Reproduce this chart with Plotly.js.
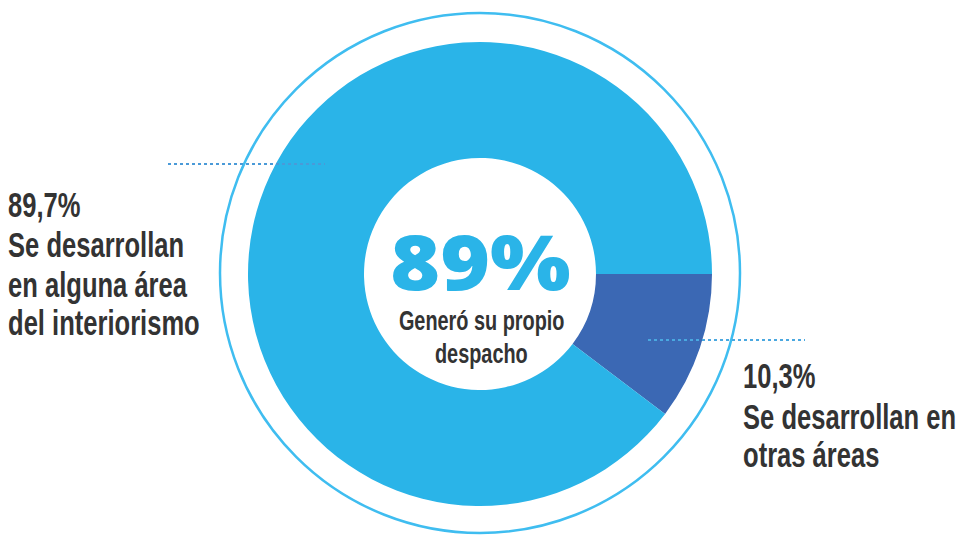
<!DOCTYPE html>
<html>
<head>
<meta charset="utf-8">
<script src="https://cdn.plot.ly/plotly-3.0.1.min.js"></script>
<style>
html,body{margin:0;padding:0;background:#fff;}
#chart{width:959px;height:535px;}
/* condensed look for the label texts (reference uses a condensed typeface) */
#chart g.annotation text.annotation-text{transform-box:fill-box;transform-origin:0% 50%;transform:scaleX(0.71);}
#chart g.annotation[data-index="0"] text.annotation-text{transform-origin:50% 50%;transform:scaleX(1.12);}
#chart g.annotation[data-index="1"] text.annotation-text,
#chart g.annotation[data-index="2"] text.annotation-text{transform-origin:50% 50%;}
</style>
</head>
<body>
<div id="chart"></div>
<script>
const categories = ["Se desarrollan en otras áreas", "Se desarrollan en alguna área del interiorismo"];
const values = [10.3, 89.7];
const sliceColors = ["#3b68b4", "#2ab4e8"];
const centerValue = "89%";
const centerLines = ["Generó su propio", "despacho"];
const leftLines = ["89,7%", "Se desarrollan", "en alguna área", "del interiorismo"];
const rightLines = ["10,3%", "Se desarrollan en", "otras áreas"];

const W = 959, H = 535;
const px = x => x / W;
const py = y => 1 - y / H;
const labelFont = "Liberation Sans, Arial, sans-serif";

const data = [{
  type: "pie",
  labels: categories,
  values: values,
  hole: 0.5,
  sort: false,
  direction: "clockwise",
  rotation: 90,
  textinfo: "none",
  hoverinfo: "label+percent",
  marker: {colors: sliceColors, line: {width: 0}},
  domain: {x: [px(248), px(712)], y: [py(506), py(42)]},
  showlegend: false
}];

const annotations = [
  {xref: "paper", yref: "paper", x: px(480), y: py(260), xanchor: "center", yanchor: "middle",
   text: centerValue, showarrow: false,
   font: {family: "Open Sans, Lato, sans-serif", size: 76, weight: 800, color: "#2ab4e8"}}
];
const centerY = [320, 353];
centerLines.forEach((t, i) => annotations.push({
  xref: "paper", yref: "paper", x: px(481), y: py(centerY[i]), xanchor: "center", yanchor: "middle",
  text: t, showarrow: false,
  font: {family: labelFont, size: 28, weight: 700, color: "#333333"}
}));
const leftY = [205, 245, 284, 322];
leftLines.forEach((t, i) => annotations.push({
  xref: "paper", yref: "paper", x: px(6), y: py(leftY[i]), xanchor: "left", yanchor: "middle",
  text: t, showarrow: false,
  font: {family: labelFont, size: 36, weight: 700, color: "#333333"}
}));
const rightY = [375, 416, 454];
rightLines.forEach((t, i) => annotations.push({
  xref: "paper", yref: "paper", x: px(741), y: py(rightY[i]), xanchor: "left", yanchor: "middle",
  text: t, showarrow: false,
  font: {family: labelFont, size: 36, weight: 700, color: "#333333"}
}));

const layout = {
  width: W, height: H,
  margin: {l: 0, r: 0, t: 0, b: 0},
  paper_bgcolor: "#ffffff",
  plot_bgcolor: "#ffffff",
  shapes: [
    {type: "circle", xref: "paper", yref: "paper",
     x0: px(220), x1: px(740), y0: py(533), y1: py(13),
     line: {color: "#3fbdf0", width: 2.5}},
    {type: "line", xref: "paper", yref: "paper",
     x0: px(168), x1: px(325), y0: py(164), y1: py(164),
     line: {color: "#4a9ad8", width: 2, dash: "dot"}},
    {type: "line", xref: "paper", yref: "paper",
     x0: px(648), x1: px(805), y0: py(340), y1: py(340),
     line: {color: "#4aa8e0", width: 2, dash: "dot"}}
  ],
  annotations: annotations
};

Plotly.newPlot("chart", data, layout, {displayModeBar: false, staticPlot: true});
</script>
</body>
</html>
